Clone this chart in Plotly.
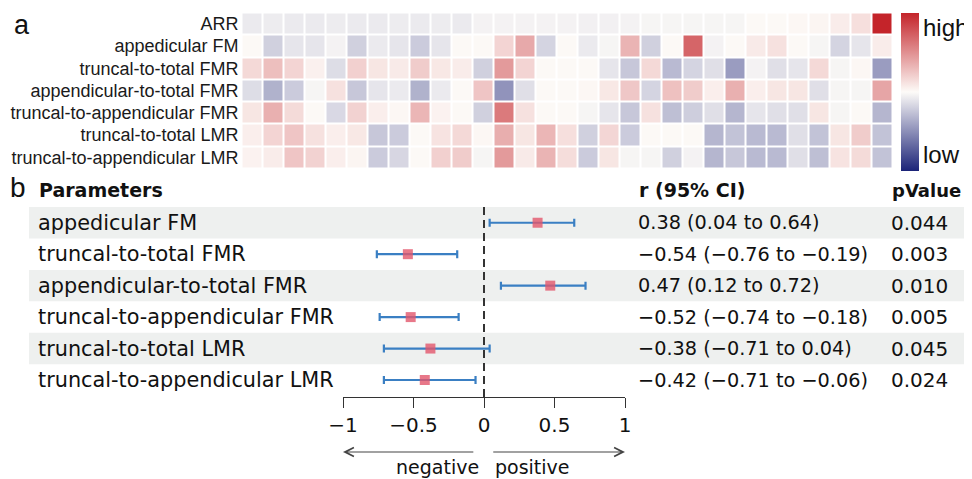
import plotly.graph_objects as go

W, H = 972, 479
OFF = 8  # the page body adds an 8px margin; positions below are screen pixels


def xp(px):
    return (px - OFF) / W


def yp(py):
    return 1 - (py - OFF) / H


# ---------------- data: panel a (heatmap) ----------------
heat_rows = ["ARR", "appedicular FM", "truncal-to-total FMR", "appendicular-to-total FMR",
             "truncal-to-appendicular FMR", "truncal-to-total LMR", "truncal-to-appendicular LMR"]
heat_cols = list(range(1, 32))

arr_vals = [-0.08, -0.07, -0.08, -0.08, -0.07, -0.08, -0.08, -0.07, -0.08, -0.07, -0.08,
            -0.04, -0.04, -0.04, -0.04, -0.04, -0.05, -0.05, -0.04, -0.03, -0.03, -0.03,
            -0.03, -0.03, 0.01, 0.01, 0.02, 0.03, 0.07, 0.13, 1.0]
app_fm = [0.01, -0.20, -0.10, -0.10, -0.04, -0.20, -0.08, -0.10, -0.22, -0.10, 0.01,
          0.01, 0.18, 0.38, -0.18, 0.01, -0.08, -0.03, 0.33, -0.20, 0.01, 0.70, -0.04,
          0.01, 0.08, 0.12, 0.01, -0.03, -0.18, -0.10, 0.07]
tt_fmr = [0.16, 0.28, 0.18, 0.05, -0.14, 0.20, 0.10, 0.08, 0.22, 0.09, 0.07, -0.20,
          0.45, 0.18, 0.01, 0.01, 0.01, -0.10, -0.24, 0.16, -0.30, -0.18, -0.13, -0.44,
          -0.04, -0.13, -0.10, 0.16, -0.03, 0.02, -0.44]
at_fmr = [-0.14, -0.34, -0.22, -0.03, 0.12, -0.24, -0.10, -0.08, -0.34, -0.08, 0.01,
          0.25, -0.48, -0.13, 0.01, 0.01, 0.02, 0.09, 0.24, -0.18, 0.27, 0.22, 0.06,
          0.35, 0.06, 0.10, 0.10, -0.13, -0.03, -0.03, 0.40]
ta_fmr = [0.10, 0.35, 0.15, 0.01, -0.16, 0.19, 0.06, 0.02, 0.32, 0.04, 0.01, -0.20,
          0.60, 0.12, 0.01, 0.01, -0.03, -0.10, -0.24, 0.12, -0.28, -0.21, -0.13, -0.32,
          -0.10, -0.13, -0.13, 0.10, -0.03, 0.01, -0.32]
tt_lmr = [0.06, 0.18, 0.25, 0.12, 0.06, 0.09, -0.24, -0.22, 0.01, 0.11, 0.16, 0.02,
          0.36, 0.10, 0.32, 0.13, -0.20, 0.17, -0.22, 0.01, 0.01, 0.01, -0.32, -0.26,
          -0.30, -0.30, -0.13, -0.26, 0.10, 0.22, -0.26]
ta_lmr = [0.04, 0.07, 0.25, 0.19, 0.06, 0.03, -0.22, -0.17, 0.01, 0.20, 0.22, -0.03,
          0.45, 0.08, 0.33, 0.14, -0.22, 0.10, -0.03, -0.03, -0.20, -0.04, -0.32, -0.24,
          -0.30, -0.30, -0.13, -0.28, 0.11, 0.15, -0.26]

# ---------------- data: panel b (forest plot) ----------------
params = ["appedicular FM", "truncal-to-total FMR", "appendicular-to-total FMR",
          "truncal-to-appendicular FMR", "truncal-to-total LMR", "truncal-to-appendicular LMR"]
r_vals = [0.38, -0.54, 0.47, -0.52, -0.38, -0.42]
ci_low = [0.04, -0.76, 0.12, -0.74, -0.71, -0.71]
ci_high = [0.64, -0.19, 0.72, -0.18, 0.04, -0.06]
p_vals = ["0.044", "0.003", "0.010", "0.005", "0.045", "0.024"]
x_ticks = [-1, -0.5, 0, 0.5, 1]
x_ticktext = ["−1", "−0.5", "0", "0.5", "1"]

FONT_A = "Liberation Sans, Arial, sans-serif"
FONT_B = "DejaVu Sans, sans-serif"

fig = go.Figure()

z = [arr_vals, app_fm, tt_fmr, at_fmr, ta_fmr, tt_lmr, ta_lmr]
fig.add_trace(go.Heatmap(
    z=z, x=heat_cols, y=heat_rows, zmin=-1, zmax=1,
    xgap=2, ygap=2,
    colorscale=[[0, "#1b2378"], [0.5, "#fdfbf8"], [1, "#c4242a"]],
    colorbar=dict(x=xp(900.5), xanchor="left", xpad=0, ypad=0,
                  y=yp(92), yanchor="middle", lenmode="pixels", len=158,
                  thickness=18, thicknessmode="pixels", outlinewidth=0,
                  showticklabels=False, ticks=""),
    hoverinfo="skip",
    xaxis="x", yaxis="y",
))

# forest plot
err_plus = [h - r for h, r in zip(ci_high, r_vals)]
err_minus = [r - l for r, l in zip(r_vals, ci_low)]
row_idx = list(range(len(params)))
fig.add_trace(go.Scatter(
    x=r_vals, y=row_idx, mode="markers",
    marker=dict(symbol="square", size=10, color="rgba(226,86,108,0.8)",
                line=dict(width=0)),
    error_x=dict(type="data", array=err_plus, arrayminus=err_minus,
                 color="#3a7fc3", thickness=2.2, width=4),
    xaxis="x2", yaxis="y2", showlegend=False, hoverinfo="skip",
))

shapes = []
for i in row_idx:
    if i % 2 == 0:
        shapes.append(dict(type="rect", xref="paper", yref="y2",
                           x0=xp(29), x1=1, y0=i - 0.5, y1=i + 0.5,
                           fillcolor="#eef0ef", line=dict(width=0), layer="below"))
shapes.append(dict(type="line", xref="x2", yref="paper", x0=0, x1=0,
                   y0=yp(397), y1=yp(204),
                   line=dict(color="#333333", width=2, dash="8px,5px")))

ann = []
# panel letters
ann.append(dict(text="a", x=xp(12), y=yp(8), xref="paper", yref="paper",
                xanchor="left", yanchor="top", showarrow=False,
                font=dict(family=FONT_A, size=27, color="#111")))
ann.append(dict(text="b", x=xp(8), y=yp(187), xref="paper", yref="paper",
                xanchor="left", yanchor="middle", showarrow=False,
                font=dict(family=FONT_A, size=28, color="#111")))
# colorbar labels
ann.append(dict(text="high", x=xp(921), y=yp(27), xref="paper", yref="paper",
                xanchor="left", yanchor="middle", showarrow=False,
                font=dict(family=FONT_A, size=24, color="#111")))
ann.append(dict(text="low", x=xp(921), y=yp(154), xref="paper", yref="paper",
                xanchor="left", yanchor="middle", showarrow=False,
                font=dict(family=FONT_A, size=24, color="#111")))
# headers
for txt, x, fs in [("Parameters", 37, 19), ("r (95% CI)", 637, 19), ("pValue", 890, 18)]:
    ann.append(dict(text="<b>" + txt + "</b>", x=xp(x), y=yp(190), xref="paper",
                    yref="paper", xanchor="left", yanchor="middle", showarrow=False,
                    font=dict(family=FONT_B, size=fs, color="#111")))


def fmt(v):
    return f"{v:.2f}".replace("-", "−")


for i, name in enumerate(params):
    ann.append(dict(text=name, x=xp(36), y=i, xref="paper", yref="y2",
                    xanchor="left", yanchor="middle", showarrow=False,
                    font=dict(family=FONT_B, size=20.8, color="#111")))
    rt = f"{fmt(r_vals[i])} ({fmt(ci_low[i])} to {fmt(ci_high[i])})"
    ann.append(dict(text=rt, x=xp(636), y=i, xref="paper", yref="y2",
                    xanchor="left", yanchor="middle", showarrow=False,
                    font=dict(family=FONT_B, size=19.3, color="#111")))
    ann.append(dict(text=p_vals[i], x=xp(889), y=i, xref="paper", yref="y2",
                    xanchor="left", yanchor="middle", showarrow=False,
                    font=dict(family=FONT_B, size=20, color="#111")))

# direction arrows
ann.append(dict(text="", x=-1, y=yp(452), xref="x2", yref="paper",
                ax=-0.065, ay=0, axref="x2", ayref="pixel",
                showarrow=True, arrowhead=5, arrowsize=1.6, arrowwidth=1.1,
                arrowcolor="#444"))
ann.append(dict(text="", x=1, y=yp(452), xref="x2", yref="paper",
                ax=0.055, ay=0, axref="x2", ayref="pixel",
                showarrow=True, arrowhead=5, arrowsize=1.6, arrowwidth=1.1,
                arrowcolor="#444"))
ann.append(dict(text="negative", x=xp(437), y=yp(467), xref="paper", yref="paper",
                xanchor="center", yanchor="middle", showarrow=False,
                font=dict(family=FONT_B, size=19, color="#111")))
ann.append(dict(text="positive", x=xp(532), y=yp(467), xref="paper", yref="paper",
                xanchor="center", yanchor="middle", showarrow=False,
                font=dict(family=FONT_B, size=19, color="#111")))

fig.update_layout(
    template="none",
    width=W, height=H,
    margin=dict(l=0, r=0, t=0, b=0, autoexpand=False),
    paper_bgcolor="white", plot_bgcolor="rgba(0,0,0,0)",
    showlegend=False,
    xaxis=dict(domain=[xp(241.5), xp(892.5)], visible=False, automargin=False),
    yaxis=dict(domain=[yp(168.5), yp(12.5)], autorange="reversed", automargin=False,
               showgrid=False, zeroline=False, ticks="", showline=False,
               ticklabelstandoff=2,
               tickfont=dict(family=FONT_A, size=18, color="#1a1a1a")),
    xaxis2=dict(domain=[xp(343), xp(625)], range=[-1, 1], anchor="y2", automargin=False,
                tickvals=x_ticks, ticktext=x_ticktext,
                showline=True, linecolor="#333", linewidth=1.3,
                ticks="outside", ticklen=10, tickwidth=1.3, tickcolor="#333",
                showgrid=False, zeroline=False,
                tickfont=dict(family=FONT_B, size=20, color="#111")),
    yaxis2=dict(domain=[yp(397), yp(207)], range=[5.54, -0.5], visible=False,
                automargin=False),
    shapes=shapes, annotations=ann,
)

fig.write_html("out.html")
